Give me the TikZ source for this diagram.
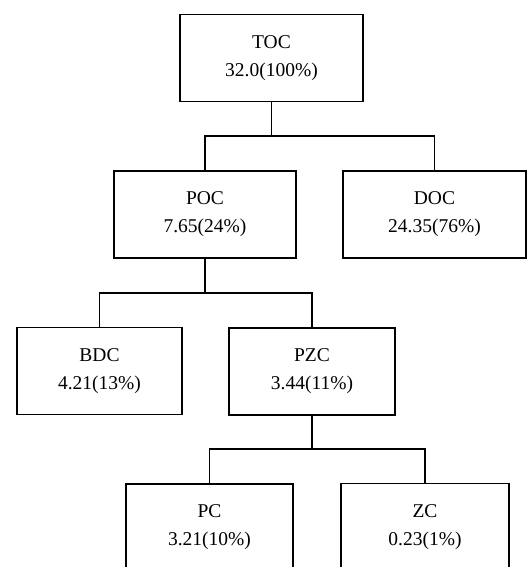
\documentclass[tikz,border=0pt]{standalone}
\usepackage{fontspec}
\setmainfont{Liberation Serif}
\begin{document}
\begin{tikzpicture}[
    x=1pt, y=-1pt,  % une unité = un pixel, y vers le bas
    % Style des boîtes
    box/.style={draw, line width=1.4pt, rectangle, align=center,
        minimum width=#1, minimum height=87pt, inner sep=0pt,
        font=\fontsize{19.5}{28}\selectfont},
    box/.default=183pt,
    link/.style={draw, line width=1.4pt} % traits de liaison
]
\useasboundingbox (0,0) rectangle (529,567);
\clip (0,0) rectangle (529,567);
% Niveau 0
\node[box] (toc) at (271.5,58) {TOC\\32.0(100\%)};
% Niveau 1
\node[box=182pt] (poc) at (205,214.5) {POC\\7.65(24\%)};
\node[box] (doc) at (434.5,214.5) {DOC\\24.35(76\%)};
% Niveau 2
\node[box=165pt] (bdc) at (99.5,371) {BDC\\4.21(13\%)};
\node[box=166pt] (pzc) at (312,371.5) {PZC\\3.44(11\%)};
% Niveau 3
\node[box=167pt] (pc) at (209.5,527.5) {PC\\3.21(10\%)};
\node[box=168pt] (zc) at (425,527) {ZC\\0.23(1\%)};
% Liaisons
\coordinate (j1) at (271.5,136);
\coordinate (j2) at (205,293);
\coordinate (j3) at (312,449);
\draw[link] (toc.south) -- (j1);
\draw[link] (poc.north) |- (j1) -| (doc.north);
\draw[link] (poc.south) -- (j2);
\draw[link] (bdc.north) |- (j2) -| (pzc.north);
\draw[link] (pzc.south) -- (j3);
\draw[link] (pc.north) |- (j3) -| (zc.north);
\end{tikzpicture}
\end{document}
